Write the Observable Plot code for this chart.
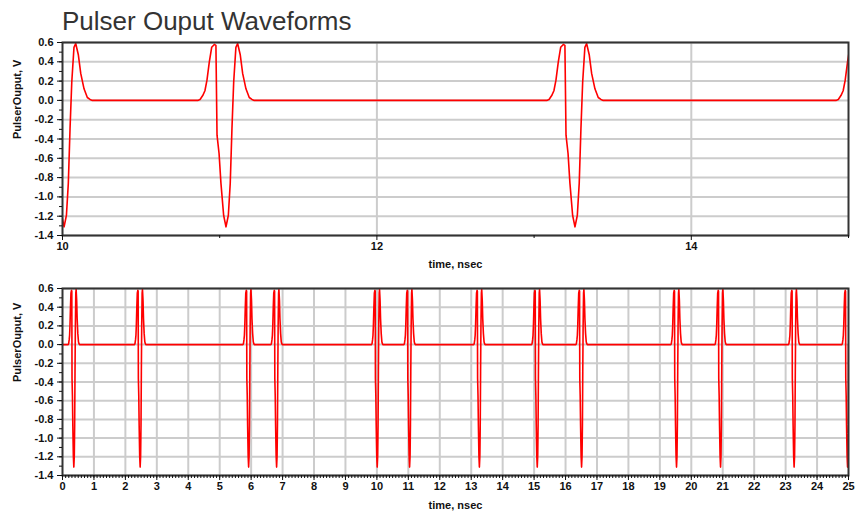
<!DOCTYPE html>
<html>
<head>
<meta charset="utf-8">
<script src="https://cdn.jsdelivr.net/npm/d3@7"></script>
<script src="https://cdn.jsdelivr.net/npm/@observablehq/plot@0.6"></script>
<style>
  body { margin: 0; background: #fff; }
  #chart { position: relative; width: 856px; height: 521px; overflow: hidden; font-family: "Liberation Sans", Arial, sans-serif; }
  #title { position: absolute; left: 62px; top: 8px; font-size: 26px; line-height: 26px; color: #333; white-space: nowrap; }
  #topPlot { position: absolute; left: 0; top: 0; }
  #bottomPlot { position: absolute; left: 0; top: 272px; }
</style>
</head>
<body>
<div id="chart">
  <div id="topPlot"></div>
  <div id="bottomPlot"></div>
  <div id="title"></div>
</div>
<script>
// ---- Data ----
const titleText = "Pulser Ouput Waveforms";
const xLabel = "time, nsec";
const yLabel = "PulserOuput, V";

// times (ns) of the negative peak of each output pulse
const pulseCenters = [0.36, 2.47, 5.92, 6.81, 10.01, 11.04, 13.26, 15.10, 16.51, 19.53, 20.93, 23.27, 24.97];

// one pulse as read from the zoomed (upper) panel: time offset from centre (ns) and voltage (V)
const pulseOffsets = [-0.18, -0.165, -0.148, -0.134, -0.121, -0.106, -0.091, -0.074, -0.064, -0.057, -0.044, -0.032, -0.015, 0,
                      0.015, 0.027, 0.038, 0.049, 0.063, 0.074, 0.091, 0.106, 0.127, 0.148, 0.165, 0.18];
const pulseValues  = [0, 0.01, 0.05, 0.10, 0.21, 0.40, 0.55, 0.58, 0.57, -0.36, -0.55, -0.86, -1.19, -1.31,
                      -1.19, -0.86, -0.29, 0.19, 0.55, 0.59, 0.47, 0.28, 0.12, 0.03, 0.01, 0];

// flat baseline endpoints of the record
const baselineTimes = [0, 25];
const baselineValues = [0, 0];

// tick labels
const yTickValues = [-1.4, -1.2, -1.0, -0.8, -0.6, -0.4, -0.2, 0.0, 0.2, 0.4, 0.6];
const topXTicks = [10, 12, 14];
const topXMinor = [11, 13, 15];
const topGridX = [12, 14];
const bottomXTicks = [0, 1, 2, 3, 4, 5, 6, 7, 8, 9, 10, 11, 12, 13, 14, 15, 16, 17, 18, 19, 20, 21, 22, 23, 24, 25];

// ---- Build table ----
const series = [
  ...baselineTimes.map((t, i) => ({t, v: baselineValues[i]})),
  ...pulseCenters.flatMap(c => pulseOffsets.map((o, i) => ({t: c + o, v: pulseValues[i]})))
].sort((a, b) => a.t - b.t);

const yMinor = d3.range(-1.4, 0.61, 0.1).map(d => +d.toFixed(2));
const fmt = d => d.toFixed(1);

function panel({xDomain, xTicks, xMinor, gridX, height, marginTop, marginBottom, xTickFormat, labelDy}) {
  return Plot.plot({
    width: 856,
    height,
    marginTop,
    marginBottom,
    marginLeft: 62,
    marginRight: 8,
    style: {fontFamily: "'Liberation Sans', Arial, sans-serif", fontSize: "11px", fontWeight: "bold", color: "#111", background: "#fff", overflow: "visible"},
    x: {domain: xDomain},
    y: {domain: [-1.4, 0.6]},
    marks: [
      Plot.gridY(yTickValues, {stroke: "#cccccc", strokeOpacity: 1, strokeWidth: 2}),
      Plot.gridX(gridX, {stroke: "#cccccc", strokeOpacity: 1, strokeWidth: 2}),
      Plot.line(series, {x: "t", y: "v", stroke: "#ff0000", strokeWidth: 1.6, clip: true}),
      Plot.frame({stroke: "#333", strokeWidth: 2}),
      Plot.axisY(yMinor, {tickSize: 3, fill: "none", label: null}),
      Plot.axisY(yTickValues, {tickSize: 5, tickPadding: 4, tickFormat: fmt, label: null}),
      Plot.axisX(xMinor, {tickSize: 3, fill: "none", label: null}),
      Plot.axisX(xTicks, {tickSize: 5, tickPadding: 2, tickFormat: xTickFormat, label: null}),
      Plot.text([xLabel], {frameAnchor: "bottom", dy: labelDy, fontWeight: "bold", fontSize: 11}),
      Plot.text([yLabel], {frameAnchor: "left", dx: -45, rotate: -90, fontWeight: "bold", fontSize: 11})
    ]
  });
}

document.getElementById("title").textContent = titleText;

document.getElementById("topPlot").append(panel({
  xDomain: [10, 15], xTicks: topXTicks, xMinor: topXMinor, gridX: topGridX,
  height: 272, marginTop: 42, marginBottom: 37, xTickFormat: d => String(d), labelDy: 32
}));

document.getElementById("bottomPlot").append(panel({
  xDomain: [0, 25], xTicks: bottomXTicks, xMinor: d3.range(0, 25.01, 0.1).map(d => +d.toFixed(2)),
  gridX: bottomXTicks.slice(1, -1),
  height: 249, marginTop: 16, marginBottom: 46, xTickFormat: d => String(d), labelDy: 33
}));
</script>
</body>
</html>
